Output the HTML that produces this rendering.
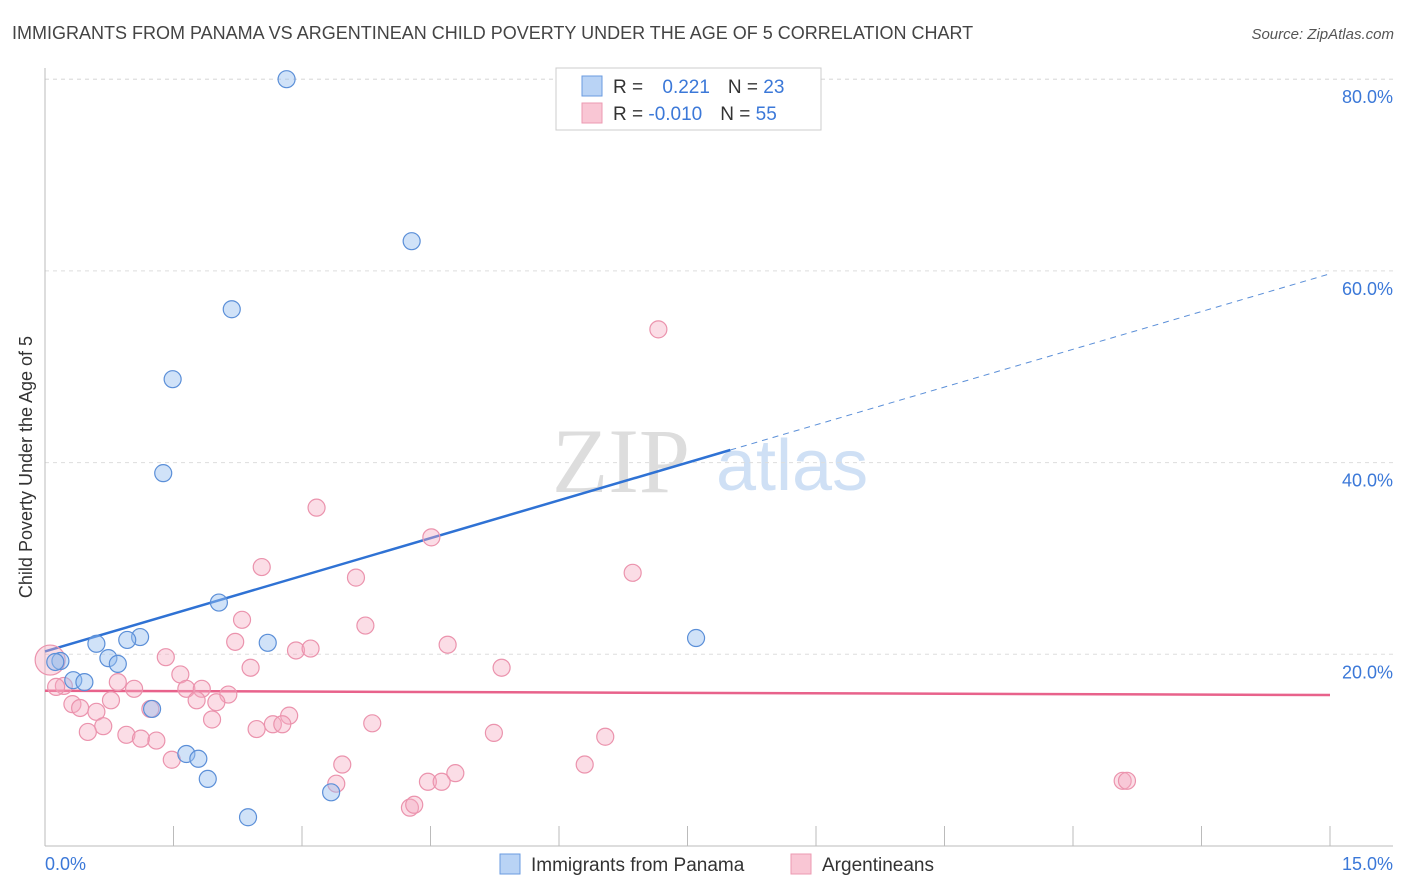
<!DOCTYPE html>
<html><head><meta charset="utf-8"><style>
body{margin:0;background:#fff;font-family:"Liberation Sans",sans-serif}
svg{display:block}
</style></head><body>
<svg width="1406" height="892" viewBox="0 0 1406 892" xmlns="http://www.w3.org/2000/svg">
<text x="12" y="39" font-size="18" fill="#444">IMMIGRANTS FROM PANAMA VS ARGENTINEAN CHILD POVERTY UNDER THE AGE OF 5 CORRELATION CHART</text>
<text x="1394" y="39" font-size="15" fill="#555" font-style="italic" text-anchor="end">Source: ZipAtlas.com</text>
<g>
<text x="552" y="492" font-size="92" fill="#ddd" font-family="Liberation Serif,serif">ZIP</text>
<text x="716" y="490" font-size="72" fill="#cfe0f5">atlas</text>
</g>
<g id="grid"></g>
<g id="axes"></g>
<g id="lines"></g>
<g id="pts"></g>
<text x="20" y="455" font-size="18" fill="#333" text-anchor="middle" transform="rotate(-90 32 455)">Child Poverty Under the Age of 5</text>
<g>
<rect x="556" y="68" width="265" height="62" fill="#fff" stroke="#ccc"/>
<rect x="582" y="76" width="20" height="20" fill="#b9d3f5" stroke="#6a9be0"/>
<rect x="582" y="103" width="20" height="20" fill="#f9c6d4" stroke="#ec9ab2"/>
<text x="613" y="93" font-size="19" fill="#333">R = <tspan fill="#3b78d8" dx="14">0.221</tspan><tspan dx="18">N = </tspan><tspan fill="#3b78d8">23</tspan></text>
<text x="613" y="120" font-size="19" fill="#333">R = <tspan fill="#3b78d8">-0.010</tspan><tspan dx="18">N = </tspan><tspan fill="#3b78d8">55</tspan></text>
</g>
<g>
<rect x="500" y="854" width="20" height="20" fill="#b9d3f5" stroke="#6a9be0"/>
<text x="531" y="871" font-size="19" fill="#333">Immigrants from Panama</text>
<rect x="791" y="854" width="20" height="20" fill="#f9c6d4" stroke="#ec9ab2"/>
<text x="822" y="871" font-size="19" fill="#333">Argentineans</text>
</g>
</svg>
<script>
const xTickLabels=["0.0%","15.0%"];
const yTicks=[20,40,60,80];
const yTickLabels=["20.0%","40.0%","60.0%","80.0%"];
const blueX=[2.82,4.28,2.18,1.49,1.38,2.03,1.11,0.96,0.60,2.60,0.74,0.85,0.18,0.12,0.33,0.46,1.25,1.65,1.79,1.90,3.34,2.37,7.60];
const blueY=[80.0,63.1,56.0,48.7,38.9,25.4,21.8,21.5,21.1,21.2,19.6,19.0,19.3,19.2,17.3,17.1,14.3,9.6,9.1,7.0,5.6,3.0,21.7];
const pinkX=[7.16,3.17,4.51,2.53,6.86,3.63,2.30,3.74,2.22,4.70,2.93,3.10,1.41,2.40,5.33,1.58,0.85,0.22,1.04,1.65,1.83,0.13,2.14,0.77,1.77,2.00,0.32,0.41,0.60,1.23,2.85,1.95,0.68,3.82,0.50,2.47,2.66,2.77,0.95,1.12,1.30,5.24,6.54,1.48,3.47,4.79,6.30,3.40,4.47,4.63,12.58,12.63,4.26,4.31,0.06];
const pinkY=[53.9,35.3,32.2,29.1,28.5,28.0,23.6,23.0,21.3,21.0,20.4,20.6,19.7,18.6,18.6,17.9,17.1,16.7,16.4,16.4,16.4,16.6,15.8,15.2,15.2,15.0,14.8,14.4,14.0,14.3,13.6,13.2,12.5,12.8,11.9,12.2,12.7,12.7,11.6,11.2,11.0,11.8,11.4,9.0,8.5,7.6,8.5,6.5,6.7,6.7,6.8,6.8,4.0,4.3,19.4];
const blueTrend=[20.3,59.7];
const pinkTrend=[16.2,15.75];
const NS="http://www.w3.org/2000/svg";
const sx=v=>45+v*(1285/15);
const sy=v=>846-v*9.585;
function mk(t,a,p){const e=document.createElementNS(NS,t);for(const k in a)e.setAttribute(k,a[k]);p.appendChild(e);return e;}
const grid=document.getElementById('grid'),axes=document.getElementById('axes'),lines=document.getElementById('lines'),pts=document.getElementById('pts');
yTicks.forEach((t,i)=>{
 const l=mk('line',{x1:45,x2:1393,y1:sy(t),y2:sy(t),stroke:'#ddd','stroke-dasharray':'4,4'},grid);
 
 
 const tx=mk('text',{x:1393,y:sy(t)+24,'text-anchor':'end','font-size':18,fill:'#3b78d8'},axes);
 tx.textContent=yTickLabels[i];
 
 
});
const dl=mk('line',{x1:45,x2:1393,y1:sy(80)-0,y2:sy(80),stroke:'#ddd','stroke-dasharray':'4,4'},grid);
const ya=mk('line',{x1:45,x2:45,y1:68,y2:846,stroke:'#bbb'},axes);


const xa=mk('line',{x1:45,x2:1393,y1:846,y2:846,stroke:'#bbb'},axes);


for(let i=0;i<=10;i++){
 const tk=mk('line',{x1:sx(i*1.5),x2:sx(i*1.5),y1:826,y2:846,stroke:'#bbb'},axes);
 
 
}
const xl0=mk('text',{x:45,y:870,'font-size':18,fill:'#3b78d8'},axes);
xl0.textContent=xTickLabels[0];


const xl1=mk('text',{x:1393,y:870,'font-size':18,fill:'#3b78d8','text-anchor':'end'},axes);
xl1.textContent=xTickLabels[1];


const by=x=>blueTrend[0]+(blueTrend[1]-blueTrend[0])*x/15;
const bs=mk('line',{x1:sx(0),y1:sy(by(0)),x2:sx(8.0),y2:sy(by(8.0)),stroke:'#2f72d4','stroke-width':2.5},lines);


const bd=mk('line',{x1:sx(8.0),y1:sy(by(8.0)),x2:sx(15),y2:sy(by(15)),stroke:'#5b8fd8','stroke-width':1,'stroke-dasharray':'6,5'},lines);


const pl=mk('line',{x1:sx(0),y1:sy(pinkTrend[0]),x2:sx(15),y2:sy(pinkTrend[1]),stroke:'#e8628b','stroke-width':2.5},lines);


pinkX.forEach((x,i)=>{
 const c=mk('circle',{cx:sx(x),cy:sy(pinkY[i]),r:i===pinkX.length-1?15:8.5,fill:'rgba(246,170,192,0.4)',stroke:'#eb93ad','stroke-width':1.2},pts);
 
 
});
blueX.forEach((x,i)=>{
 const c=mk('circle',{cx:sx(x),cy:sy(blueY[i]),r:8.5,fill:'rgba(150,190,240,0.45)',stroke:'#5b8fd8','stroke-width':1.2},pts);
 
 
});
</script>
</body></html>
